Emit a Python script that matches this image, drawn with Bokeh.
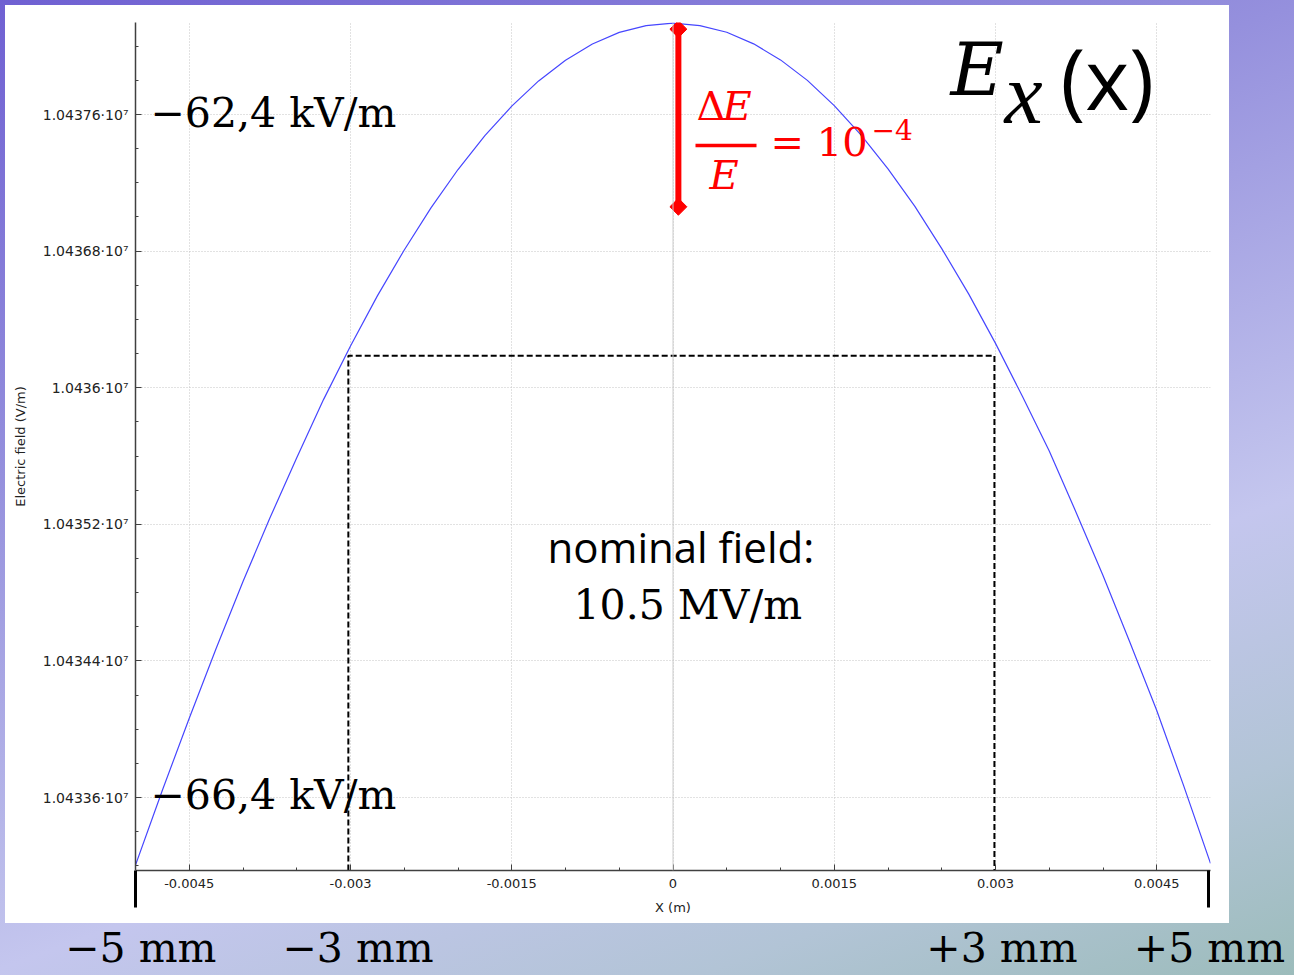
import numpy as np
from bokeh.plotting import figure
from bokeh.models import Range1d, FixedTicker, Label, Span, Arrow, LinearAxis
from bokeh.embed import file_html
from bokeh.resources import INLINE

# ---------------- data ----------------
x_m = [-0.005, -0.00475, -0.0045, -0.00425, -0.004, -0.00375, -0.0035, -0.00325, -0.003, -0.00275,
       -0.0025, -0.00225, -0.002, -0.00175, -0.0015, -0.00125, -0.001, -0.00075, -0.0005, -0.00025,
       0.0,
       0.00025, 0.0005, 0.00075, 0.001, 0.00125, 0.0015, 0.00175, 0.002, 0.00225, 0.0025,
       0.00275, 0.003, 0.00325, 0.0035, 0.00375, 0.004, 0.00425, 0.0045, 0.00475, 0.005]
field_vm = [10433205, 10433643, 10434065, 10434473, 10434865, 10435237, 10435590, 10435932, 10436245, 10436538,
            10436807, 10437055, 10437278, 10437476, 10437649, 10437797, 10437918, 10438013, 10438081, 10438121,
            10438135,
            10438121, 10438082, 10438014, 10437920, 10437800, 10437652, 10437480, 10437282, 10437062, 10436815,
            10436550, 10436260, 10435950, 10435630, 10435270, 10434900, 10434510, 10434110, 10433670, 10433215]

x_ticks = [-0.0045, -0.003, -0.0015, 0.0, 0.0015, 0.003, 0.0045]
x_tick_labels = ["-0.0045", "-0.003", "-0.0015", "0", "0.0015", "0.003", "0.0045"]
y_ticks = [10433600, 10434400, 10435200, 10436000, 10436800, 10437600]
y_tick_labels = ["1.04336·10⁷", "1.04344·10⁷", "1.04352·10⁷", "1.0436·10⁷", "1.04368·10⁷", "1.04376·10⁷"]

mm_ticks = [-0.00495, -0.00293, 0.00306, 0.00499]
mm_labels = ["−5 mm", "−3 mm", "+3 mm", "+5 mm"]
edge_x = [-0.004999, 0.00498]       # +-5 mm marks

x_limits = [-0.005, 0.005]
y_limits = [10433173, 10438139]

window_x = [-0.00302, 0.00299]      # +-3 mm window
window_top = 10436187
spread_x = 0.00005                  # Delta E / E marker
spread_y = [10438100, 10437060]

# ---------------- layout geometry ----------------
W, H = 1294, 975
FL, FR, FT, FB = 135, 1210, 22, 870
EDGE_MARK = 37


def dx(px):
    return x_limits[0] + (px - FL) / (FR - FL) * (x_limits[1] - x_limits[0])


def dy(py):
    return y_limits[1] - (py - FT) / (FB - FT) * (y_limits[1] - y_limits[0])


p = figure(width=W, height=H, output_backend="svg", toolbar_location=None,
           x_range=Range1d(*x_limits), y_range=Range1d(*y_limits),
           min_border_left=FL, min_border_right=W - FR, min_border_top=FT, min_border_bottom=H - FB)

bg = ("linear-gradient(#ffffff, #ffffff) 5px 5px / 1224px 918px no-repeat, "
      "linear-gradient(160deg, #6f60d2 0%, #9590dd 33%, #c4c6ee 67%, #b2c4d6 85%, #9cbcbb 100%)")
p.styles = {"background": bg}
p.border_fill_color = None
p.background_fill_color = None
p.outline_line_color = None

main_x = p.xaxis[0]
main_y = p.yaxis[0]

# ticks / axes
x_minor = [v for v in np.round(np.arange(-0.0045, 0.00451, 0.0005), 6) if not any(abs(v - t) < 1e-9 for t in x_ticks)]
y_minor = [v for v in range(10433200, 10438001, 200) if v not in y_ticks]
main_x.ticker = FixedTicker(ticks=x_ticks, minor_ticks=edge_x)
main_y.ticker = FixedTicker(ticks=y_ticks, minor_ticks=y_minor)
p.xgrid.ticker = FixedTicker(ticks=x_ticks)
p.ygrid.ticker = FixedTicker(ticks=y_ticks)
main_x.major_label_overrides = dict(zip(x_ticks, x_tick_labels))
main_y.major_label_overrides = dict(zip(y_ticks, y_tick_labels))

for ax in (main_x, main_y):
    ax.axis_line_color = "#404040"
    ax.axis_line_width = 1.5
    ax.major_tick_line_color = "#404040"
    ax.minor_tick_line_color = "#404040"
    ax.major_tick_in = 6
    ax.major_tick_out = 0
    ax.minor_tick_in = 3
    ax.minor_tick_out = 0
    ax.major_label_text_font = "DejaVu Sans"
    ax.major_label_text_color = "#222222"
    ax.axis_label_text_font = "DejaVu Sans"
    ax.axis_label_text_font_size = "13px"
    ax.axis_label_text_font_style = "normal"
    ax.axis_label_text_color = "#222222"

# the +-5 mm marks below the x axis
main_x.minor_tick_in = 0
main_x.minor_tick_out = EDGE_MARK
main_x.minor_tick_line_width = 3
main_x.minor_tick_line_color = "black"

main_x.major_label_text_font_size = "13px"
main_y.major_label_text_font_size = "14px"
main_x.axis_label = "X (m)"
main_y.axis_label = "Electric field (V/m)"
main_x.major_label_standoff = 8 - EDGE_MARK
main_y.major_label_standoff = 7
main_x.axis_label_standoff = 9
main_y.axis_label_standoff = 12

# small inward minor ticks of the x axis (axis fixed at the frame bottom)
minor_axis = LinearAxis(fixed_location=y_limits[0], ticker=FixedTicker(ticks=[], minor_ticks=x_minor),
                        axis_line_color=None, major_tick_line_color=None,
                        major_label_text_color=None, major_label_text_font_size="1px",
                        minor_tick_in=3, minor_tick_out=0, minor_tick_line_color="#404040")
p.add_layout(minor_axis, "below")

# slide labels of the positions, stacked below the x axis
mm_axis = LinearAxis(ticker=FixedTicker(ticks=mm_ticks, minor_ticks=[]),
                     axis_line_color=None, major_tick_line_color=None, major_tick_in=0, major_tick_out=0,
                     minor_tick_line_color=None,
                     major_label_overrides=dict(zip(mm_ticks, mm_labels)),
                     major_label_text_font="DejaVu Serif", major_label_text_font_size="41px",
                     major_label_text_color="black", major_label_standoff=6)
p.add_layout(mm_axis, "below")

p.grid.grid_line_color = "#c4c4c4"
p.grid.grid_line_dash = "1 2"
p.grid.grid_line_width = 1
p.add_layout(Span(location=0, dimension="height", line_color="#cccccc", line_width=1))

# curve
p.line(x_m, field_vm, line_color="#4646ff", line_width=1.2)

# dashed window
p.line([window_x[0], window_x[0], window_x[1], window_x[1]],
       [y_limits[0], window_top, window_top, y_limits[0]],
       line_color="black", line_width=2, line_dash="6 3")

# red spread bar
p.segment(x0=[spread_x], y0=[spread_y[0]], x1=[spread_x], y1=[spread_y[1]], line_color="#ff0000", line_width=6)
p.scatter([spread_x, spread_x], spread_y, marker="square", angle=np.pi / 4, size=12,
          fill_color="#ff0000", line_color="#ff0000")

# fraction bar
p.add_layout(Arrow(end=None, x_start=dx(695), y_start=dy(145), x_end=dx(756), y_end=dy(145),
                   line_color="#ff0000", line_width=3.5))

SERIF = "DejaVu Serif"
TIMES = "Liberation Serif"
SANS = "Open Sans"
CORR = {SERIF: 0.40, SANS: 0.46, TIMES: 0.40}
labels = [
    (150, 129, "−62,4 kV/m", SERIF, 41, "normal", "black"),
    (150, 811, "−66,4 kV/m", SERIF, 41, "normal", "black"),
    (547, 565, "nominal field:", SANS, 42, "normal", "black"),
    (573, 621, "10.5 MV/m", SERIF, 41, "normal", "black"),
    (950, 98, "E", SERIF, 73, "italic", "black"),
    (1004, 128, "x", TIMES, 86, "italic", "black"),
    (1060, 116, "(x)", SANS, 84, "normal", "black"),
    (696, 121, "Δ", SERIF, 40, "normal", "#ff0000"),
    (722, 121, "E", SERIF, 40, "italic", "#ff0000"),
    (709, 190, "E", SERIF, 40, "italic", "#ff0000"),
    (770, 157, "= 10", SERIF, 40, "normal", "#ff0000"),
    (871, 140, "−4", SERIF, 28, "normal", "#ff0000"),
]
for px, py, txt, font, size, style, color in labels:
    p.add_layout(Label(x=dx(px), y=dy(py - CORR[font] * size), text=txt, text_font=font,
                       text_font_size=f"{size}px", text_font_style=style, text_color=color,
                       text_baseline="alphabetic", text_align="left"))

open("out.html", "w").write(file_html(p, INLINE))
